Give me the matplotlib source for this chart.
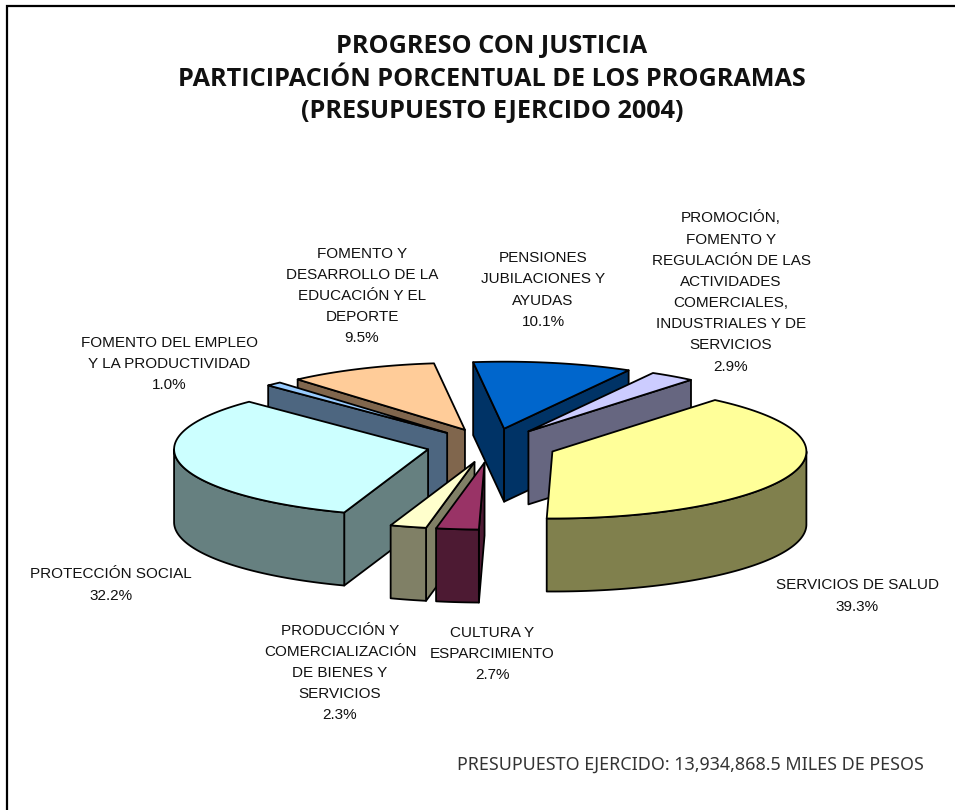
import numpy as np
import matplotlib
matplotlib.use("Agg")
import matplotlib.pyplot as plt
from matplotlib.patches import Polygon
from matplotlib.colors import to_rgb

# ---- data ----
programs = ["PENSIONES\nJUBILACIONES Y\nAYUDAS",
            "PROMOCIÓN,\nFOMENTO Y\nREGULACIÓN DE LAS\nACTIVIDADES\nCOMERCIALES,\nINDUSTRIALES Y DE\nSERVICIOS",
            "SERVICIOS DE SALUD",
            "CULTURA Y\nESPARCIMIENTO",
            "PRODUCCIÓN Y\nCOMERCIALIZACIÓN\nDE BIENES Y\nSERVICIOS",
            "PROTECCIÓN SOCIAL",
            "FOMENTO DEL EMPLEO\nY LA PRODUCTIVIDAD",
            "FOMENTO Y\nDESARROLLO DE LA\nEDUCACIÓN Y EL\nDEPORTE"]
shares = [10.1, 2.9, 39.3, 2.7, 2.3, 32.2, 1.0, 9.5]
colors = ["#0066CC", "#CCCCFF", "#FFFF99", "#993366", "#FFFFCC", "#CCFFFF", "#99CCFF", "#FFCC99"]
title_lines = "PROGRESO CON JUSTICIA\nPARTICIPACIÓN PORCENTUAL DE LOS PROGRAMAS\n(PRESUPUESTO EJERCIDO 2004)"
footnote = "PRESUPUESTO EJERCIDO: 13,934,868.5 MILES DE PESOS"

# ---- layout ----
label_pos = [(543, 290), (731, 292), (857, 596), (492, 654), (340, 673), (111, 585), (169, 364), (362, 296)]
draw_order = [7, 6, 0, 1, 5, 2, 4, 3]
CX, CY, A, B, DEPTH, EXPLODE, START = 491.5, 445.5, 254, 67, 73, 0.256, -7.0
LW = 1.3

fig = plt.figure(figsize=(9.55, 8.1), dpi=100)
ax = fig.add_axes([0, 0, 1, 1])
ax.set_xlim(0, 955)
ax.set_ylim(810, 0)
ax.axis("off")

# frame: only top and left edges are visible in the crop
ax.plot([6.5, 6.5, 955], [810, 6, 6], color="black", lw=1.6, solid_joinstyle="miter")


def pt(theta_deg):
    t = np.deg2rad(theta_deg)
    return np.array([A * np.sin(t), -B * np.cos(t)])


def arc(t0, t1):
    n = max(2, int(abs(t1 - t0)) + 2)
    return np.array([pt(t) for t in np.linspace(t0, t1, n)])


def face(points, color):
    ax.add_patch(Polygon(points, closed=True, facecolor=color, edgecolor="black",
                         lw=LW, joinstyle="round"))


edges = START + np.concatenate([[0], np.cumsum(shares)]) * 360.0 / sum(shares)
down = np.array([0, DEPTH])

for i in draw_order:
    t0, t1 = edges[i], edges[i + 1]
    mid = (t0 + t1) / 2
    apex = np.array([CX, CY]) + EXPLODE * pt(mid)
    base = to_rgb(colors[i])
    side = tuple(c * 0.5 for c in base)
    # cut faces, only when they look towards the viewer
    if -np.cos(np.deg2rad(t0 - 90)) > 0:
        r = apex + pt(t0)
        face([apex, r, r + down, apex + down], side)
    if -np.cos(np.deg2rad(t1 + 90)) > 0:
        r = apex + pt(t1)
        face([apex, r, r + down, apex + down], side)
    # outer wall, front half of the ellipse only
    lo, hi = max(t0, 90), min(t1, 270)
    if hi > lo:
        rim = apex + arc(lo, hi)
        face(np.vstack([rim, (rim + down)[::-1]]), side)
    # top
    face(np.vstack([apex, apex + arc(t0, t1)]), base)

LAB = dict(family="Liberation Sans", fontsize=11, color="#111111", ha="center", va="center",
           linespacing=1.65)
for name, share, (x, y) in zip(programs, shares, label_pos):
    ax.text(x, y, f"{name}\n{share:.1f}%", **LAB)

ax.text(492, 79, title_lines, family="Open Sans", fontweight="bold", fontsize=18.2, color="#111111",
        ha="center", va="center", linespacing=1.4)
ax.text(457, 765, footnote, family="Noto Sans", fontsize=12.9, color="#333333", ha="left", va="center")

fig.savefig("out.png", dpi=100)
